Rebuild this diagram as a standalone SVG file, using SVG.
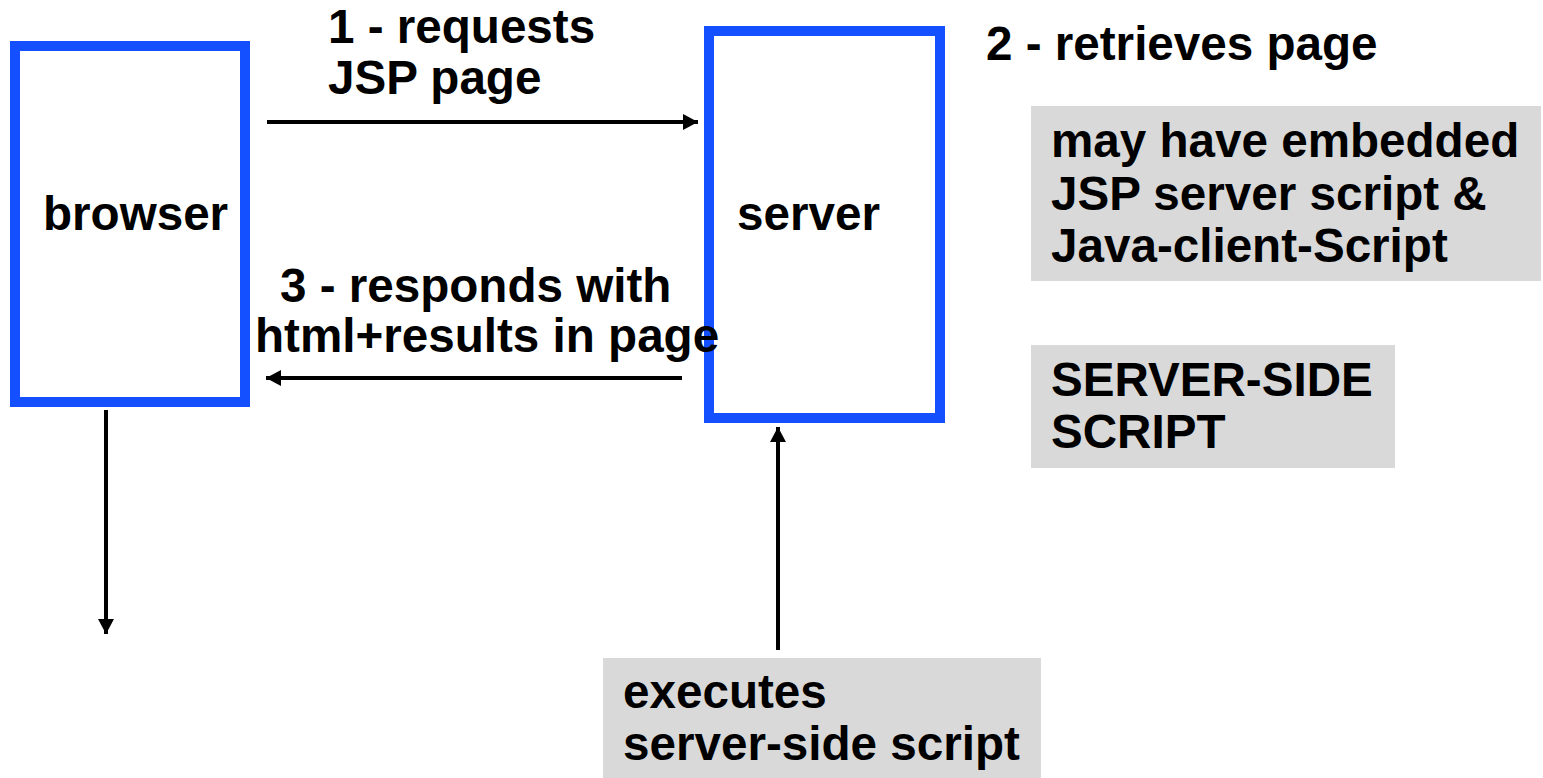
<svg xmlns="http://www.w3.org/2000/svg" width="1543" height="778" viewBox="0 0 1543 778">
<style>
text{font-family:"Liberation Sans",Arial,sans-serif;font-weight:bold;font-size:47.6px;fill:#000}
.node{fill:#fff;stroke:#1450ff;stroke-width:10}
.note{fill:#d9d9d9}
.conn{stroke:#000;stroke-width:4;fill:none;marker-end:url(#ah)}
</style>
<defs>
<marker id="ah" markerUnits="userSpaceOnUse" markerWidth="17" markerHeight="16" refX="15" refY="8" orient="auto">
<path d="M0,0 L15,8 L0,16 Z" fill="#000"/>
</marker>
</defs>
<rect width="1543" height="778" fill="#fff"/>
<g id="browser">
<rect class="node" x="15" y="46" width="230" height="356"/>
<text x="43" y="230">browser</text>
</g>
<g id="server">
<rect class="node" x="709" y="31" width="231" height="387"/>
<text x="737" y="230">server</text>
</g>
<g id="note-embedded">
<rect class="note" x="1031" y="106" width="510" height="175"/>
<text x="1051" y="157">may have embedded</text>
<text x="1051" y="210">JSP server script &amp;</text>
<text x="1051" y="262">Java-client-Script</text>
</g>
<g id="note-serverside">
<rect class="note" x="1031" y="345" width="364" height="123"/>
<text x="1051" y="396">SERVER-SIDE</text>
<text x="1051" y="448">SCRIPT</text>
</g>
<g id="note-executes">
<rect class="note" x="603" y="658" width="438" height="120"/>
<text x="623" y="708">executes</text>
<text x="623" y="760">server-side script</text>
</g>
<g id="labels">
<text x="328" y="43">1 - requests</text>
<text x="328" y="94">JSP page</text>
<text x="986" y="60">2 - retrieves page</text>
<text x="280" y="302">3 - responds with</text>
<text x="255" y="352">html+results in page</text>
</g>
<g id="connectors">
<line class="conn" x1="267" y1="122" x2="698" y2="122"/>
<line class="conn" x1="682" y1="378" x2="266" y2="378"/>
<line class="conn" x1="106" y1="410" x2="106" y2="634"/>
<line class="conn" x1="778" y1="650" x2="778" y2="427"/>
</g>
</svg>
